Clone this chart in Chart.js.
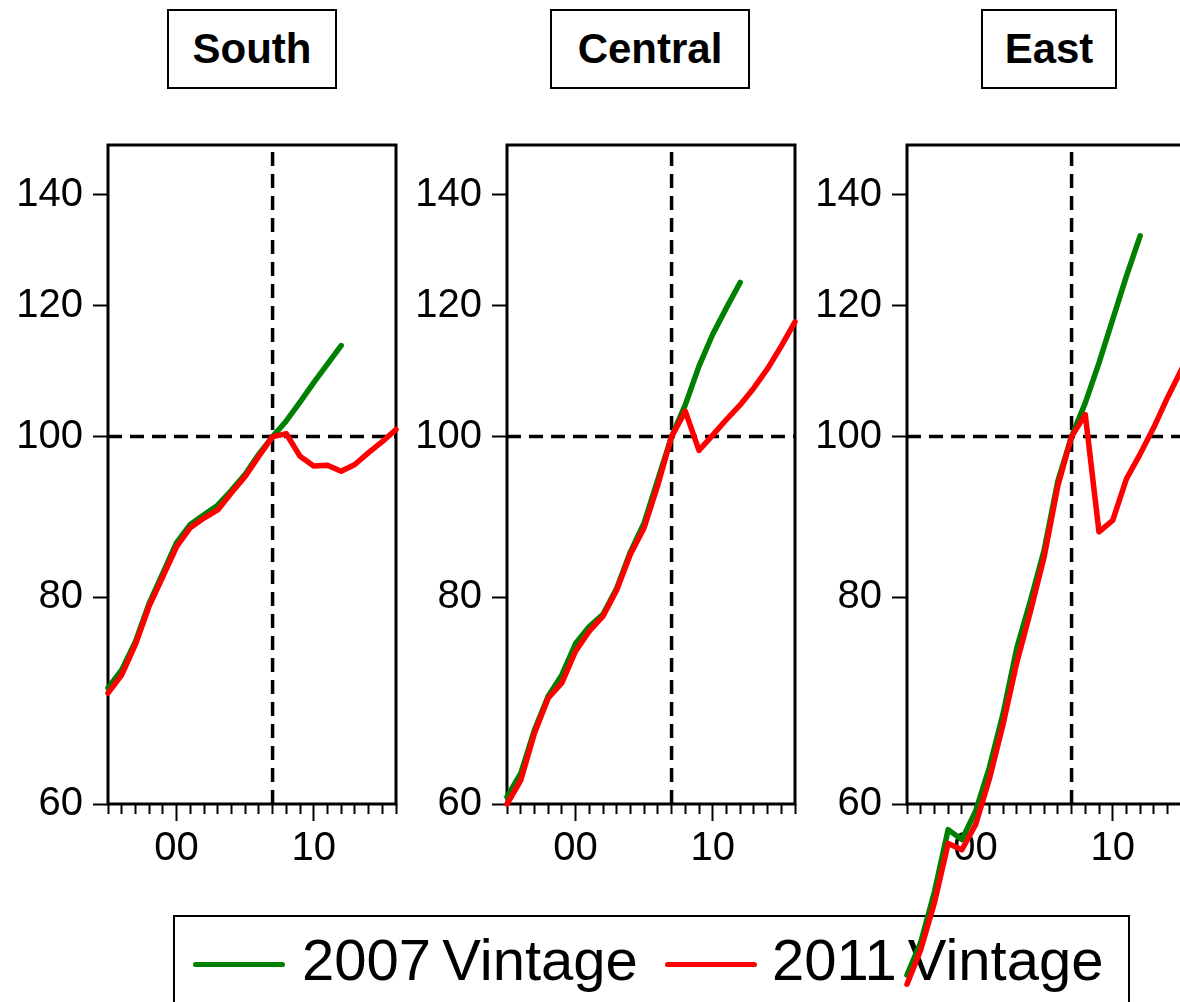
<!DOCTYPE html>
<html>
<head>
<meta charset="utf-8">
<title>Vintage comparison by region</title>
<script src="https://cdn.jsdelivr.net/npm/chart.js@4.4.1/dist/chart.umd.min.js"></script>
<style>
  html, body { margin: 0; padding: 0; background: #fff; overflow: hidden; }
  #stage { position: relative; width: 1180px; height: 1002px; overflow: hidden; font-family: "Liberation Sans", Arial, sans-serif; }
  .panel { position: absolute; top: 0; z-index: 2; }
  .title {
    position: absolute; top: 9px; height: 80px; box-sizing: border-box;
    border: 2px solid #000; font-weight: bold; font-size: 42px; line-height: 76px; text-align: center;
  }
  #legend {
    position: absolute; left: 173px; top: 915px; width: 957px; height: 120px; box-sizing: border-box;
    border: 2px solid #000; z-index: 1; font-size: 58px;
  }
  .swatch { position: absolute; top: 45px; width: 92px; height: 5px; border-radius: 3px; }
  .label { position: absolute; top: 10px; line-height: 66px; white-space: nowrap; word-spacing: -5px; }
</style>
</head>
<body>
<div id="stage">
  <div class="title" style="left:167px;width:170px;">South</div>
  <div class="title" style="left:550px;width:200px;">Central</div>
  <div class="title" style="left:981px;width:136px;">East</div>

  <canvas id="southChart" class="panel" width="400" height="1002" style="left:0px;"></canvas>
  <canvas id="centralChart" class="panel" width="400" height="1002" style="left:399px;"></canvas>
  <canvas id="eastChart" class="panel" width="400" height="1002" style="left:799px;"></canvas>

  <div id="legend">
    <div class="swatch" style="left:18px;background:#008000;"></div>
    <div class="label" style="left:127px;">2007 Vintage</div>
    <div class="swatch" style="left:490px;background:#ff0000;"></div>
    <div class="label" style="left:597px;">2011 Vintage</div>
  </div>
</div>

<script>
// DATA

const years = [1995, 1996, 1997, 1998, 1999, 2000, 2001, 2002, 2003, 2004, 2005,
               2006, 2007, 2008, 2009, 2010, 2011, 2012, 2013, 2014, 2015, 2016];
const yTicks = [60, 80, 100, 120, 140];
const labelYears = [2000, 2010];
const baseYear = 2007;
const baseIndex = 100;

// 2007 vintage runs 1995-2012, 2011 vintage runs 1995-2016
const south2007 = [70.5, 72.3, 75.2, 79.3, 82.7, 86.3, 88.5, 89.7, 90.9, 92.8, 94.9, 97.6,
                   100, 102.2, 104.9, 107.8, 110.6, 113.5];
const south2011 = [70.0, 71.8, 74.9, 79.0, 82.3, 85.8, 88.1, 89.3, 90.3, 92.5, 94.6, 97.3,
                   100, 100.4, 97.3, 96.0, 96.1, 95.3, 96.2, 97.8, 99.3, 101.0];

const central2007 = [60.6, 62.6, 66.5, 69.7, 71.8, 75.0, 76.8, 78.1, 81.0, 85.2, 88.7, 94.2,
                     100, 104.5, 110.3, 115.3, 119.6, 123.9];
const central2011 = [60.0, 62.0, 66.2, 69.5, 71.0, 74.2, 76.3, 77.9, 80.8, 84.9, 88.1, 93.5,
                     100, 103.6, 98.1, 100.2, 102.4, 104.5, 107.0, 109.9, 113.4, 117.3];

// East starts below the axis minimum, the lines run out of the plot box
const east2007 = [47.3, 49.5, 53.1, 57.9, 57.1, 59.4, 63.1, 68.0, 74.5, 79.6, 85.4, 94.0,
                  100, 104.8, 110.8, 117.7, 125.0, 132.2];
const east2011 = [46.7, 49.0, 52.3, 56.8, 56.3, 58.3, 62.1, 67.0, 73.0, 78.4, 84.6, 93.4,
                  100, 103.1, 87.6, 89.0, 94.3, 97.6, 101.3, 105.6, 109.7, 114.0];


const FONT = '"Liberation Sans", Arial, sans-serif';
const Y_MIN = 60;
const Y_MAX = 150;

function toPoints(values) {
  return values.map((v, i) => ({ x: years[i], y: v }));
}

// box around the plot area, drawn under the series
const framePlugin = {
  id: 'frame',
  beforeDatasetsDraw(chart) {
    const { ctx, chartArea: a } = chart;
    ctx.save();
    ctx.strokeStyle = '#000';
    ctx.lineWidth = 3;
    ctx.strokeRect(a.left, a.top, a.right - a.left, a.bottom - a.top);
    ctx.restore();
  }
};

function makePanel(canvasId, v2007, v2011) {
  const el = document.getElementById(canvasId);

  return new Chart(el.getContext('2d'), {
    type: 'line',
    data: {
      datasets: [
        {
          label: '2011 Vintage',
          data: toPoints(v2011),
          borderColor: '#ff0000',
          borderWidth: 5.5,
          pointRadius: 0,
          borderCapStyle: 'round',
          borderJoinStyle: 'round',
          clip: false,
          order: 0
        },
        {
          label: '2007 Vintage',
          data: toPoints(v2007),
          borderColor: '#008000',
          borderWidth: 5.5,
          pointRadius: 0,
          borderCapStyle: 'round',
          borderJoinStyle: 'round',
          clip: false,
          order: 1
        },
        {
          label: 'base',
          data: [{ x: years[0], y: baseIndex }, { x: years[years.length - 1], y: baseIndex }],
          borderColor: '#000',
          borderWidth: 3.5,
          borderDash: [14, 8],
          pointRadius: 0,
          order: 2
        },
        {
          label: 'base year',
          data: [{ x: baseYear, y: Y_MIN }, { x: baseYear, y: Y_MAX }],
          borderColor: '#000',
          borderWidth: 3.5,
          borderDash: [14, 8],
          pointRadius: 0,
          order: 2
        }
      ]
    },
    options: {
      responsive: false,
      animation: false,
      events: [],
      layout: { padding: { top: 145, bottom: 138, left: 0, right: 4 } },
      plugins: {
        legend: { display: false },
        tooltip: { enabled: false },
        title: { display: false }
      },
      scales: {
        x: {
          type: 'linear',
          min: years[0],
          max: years[years.length - 1],
          afterFit: s => { s.height = 60; },
          afterBuildTicks: s => { s.ticks = years.map(v => ({ value: v })); },
          border: { display: false },
          grid: {
            drawOnChartArea: false,
            drawTicks: true,
            tickLength: 17,
            tickWidth: 2,
            tickColor: '#000',
            // minor years get a short tick
            tickBorderDash: ctx => (ctx.tick && labelYears.includes(ctx.tick.value)) ? [] : [10, 40]
          },
          ticks: {
            autoSkip: false,
            maxRotation: 0,
            padding: 4,
            color: '#000',
            font: { family: FONT, size: 40 },
            callback: v => labelYears.includes(v) ? String(v).slice(2) : ''
          }
        },
        y: {
          type: 'logarithmic',
          min: Y_MIN,
          max: Y_MAX,
          afterFit: s => { s.width = 108; },
          afterBuildTicks: s => { s.ticks = yTicks.map(v => ({ value: v })); },
          border: { display: false },
          grid: {
            drawOnChartArea: false,
            tickLength: 15,
            tickWidth: 2,
            tickColor: '#000'
          },
          ticks: {
            padding: 10,
            color: '#000',
            font: { family: FONT, size: 40 },
            callback: v => String(v)
          }
        }
      }
    },
    plugins: [framePlugin]
  });
}

document.addEventListener('DOMContentLoaded', function() {
  makePanel('southChart', south2007, south2011);
  makePanel('centralChart', central2007, central2011);
  makePanel('eastChart', east2007, east2011);
});
</script>
</body>
</html>
